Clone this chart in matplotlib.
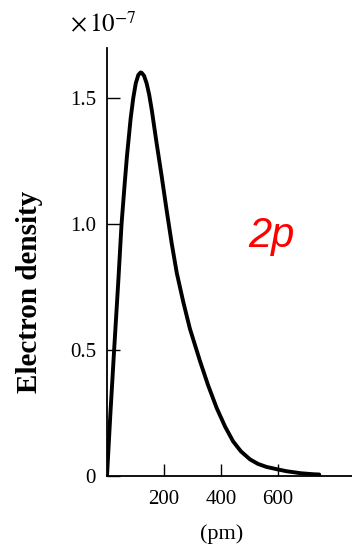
import numpy as np
import matplotlib
matplotlib.use('Agg')
import matplotlib.pyplot as plt

# radial distance (pm) and electron density (x 1e-7)
r_pm = [0, 12, 25, 40, 51, 62, 70, 83, 92, 101, 110, 118, 122, 130, 139,
        148, 157, 174, 192, 209, 227, 245, 268, 291, 326, 355, 385, 415,
        443, 470, 502, 530, 560, 600, 630, 680, 724, 745]
density = [0.0, 0.25, 0.50, 0.78, 1.00, 1.16, 1.27, 1.42, 1.50, 1.560, 1.593,
           1.603, 1.601, 1.590, 1.560, 1.515, 1.455, 1.323, 1.190, 1.058,
           0.925, 0.806, 0.690, 0.585, 0.458, 0.360, 0.270, 0.195, 0.137,
           0.098, 0.066, 0.048, 0.036, 0.026, 0.019, 0.011, 0.007, 0.006]

y_ticks = [0, 0.5, 1.0, 1.5]
y_ticklabels = ['0', '0.5', '1.0', '1.5']
x_ticks = [200, 400, 600]
x_ticklabels = ['200', '400', '600']

plt.rcParams['font.family'] = ['Liberation Serif', 'DejaVu Serif']
plt.rcParams['mathtext.fontset'] = 'stix'

fig = plt.figure(figsize=(3.52, 5.46), dpi=100)
ax = fig.add_axes([107 / 352, 70 / 546, 245 / 352, 428 / 546])

ax.plot(r_pm, density, color='k', lw=2.8, solid_capstyle='round',
        solid_joinstyle='round')

ax.set_xlim(0, 860)
ax.set_ylim(0, 1.70)
ax.set_xticks(x_ticks)
ax.set_xticklabels(x_ticklabels)
ax.set_yticks(y_ticks)
ax.set_yticklabels(y_ticklabels)
ax.tick_params(axis='both', direction='in', length=9, width=1.0,
               labelsize=15, color='k')
ax.tick_params(axis='y', pad=8)
ax.tick_params(axis='x', pad=10)
for side in ['top', 'right']:
    ax.spines[side].set_visible(False)
for side in ['left', 'bottom']:
    ax.spines[side].set_linewidth(1.3)

ax.text(495, 0.91, '2p', color='red', fontsize=30, style='italic',
        family=['Liberation Sans', 'DejaVu Sans'], ha='left', va='baseline')

fig.text(222 / 352, 1 - 534 / 546, '(pm)', fontsize=16, ha='center',
         va='center')
fig.text(30 / 352, 1 - 292 / 546, 'Electron density', fontsize=21,
         fontweight='bold', rotation=90, ha='center', va='center')
fig.text(70 / 352, 1 - 25 / 546, r'$\times\,10^{-7}$', fontsize=18,
         ha='left', va='center')

fig.savefig('out.png', dpi=100)
